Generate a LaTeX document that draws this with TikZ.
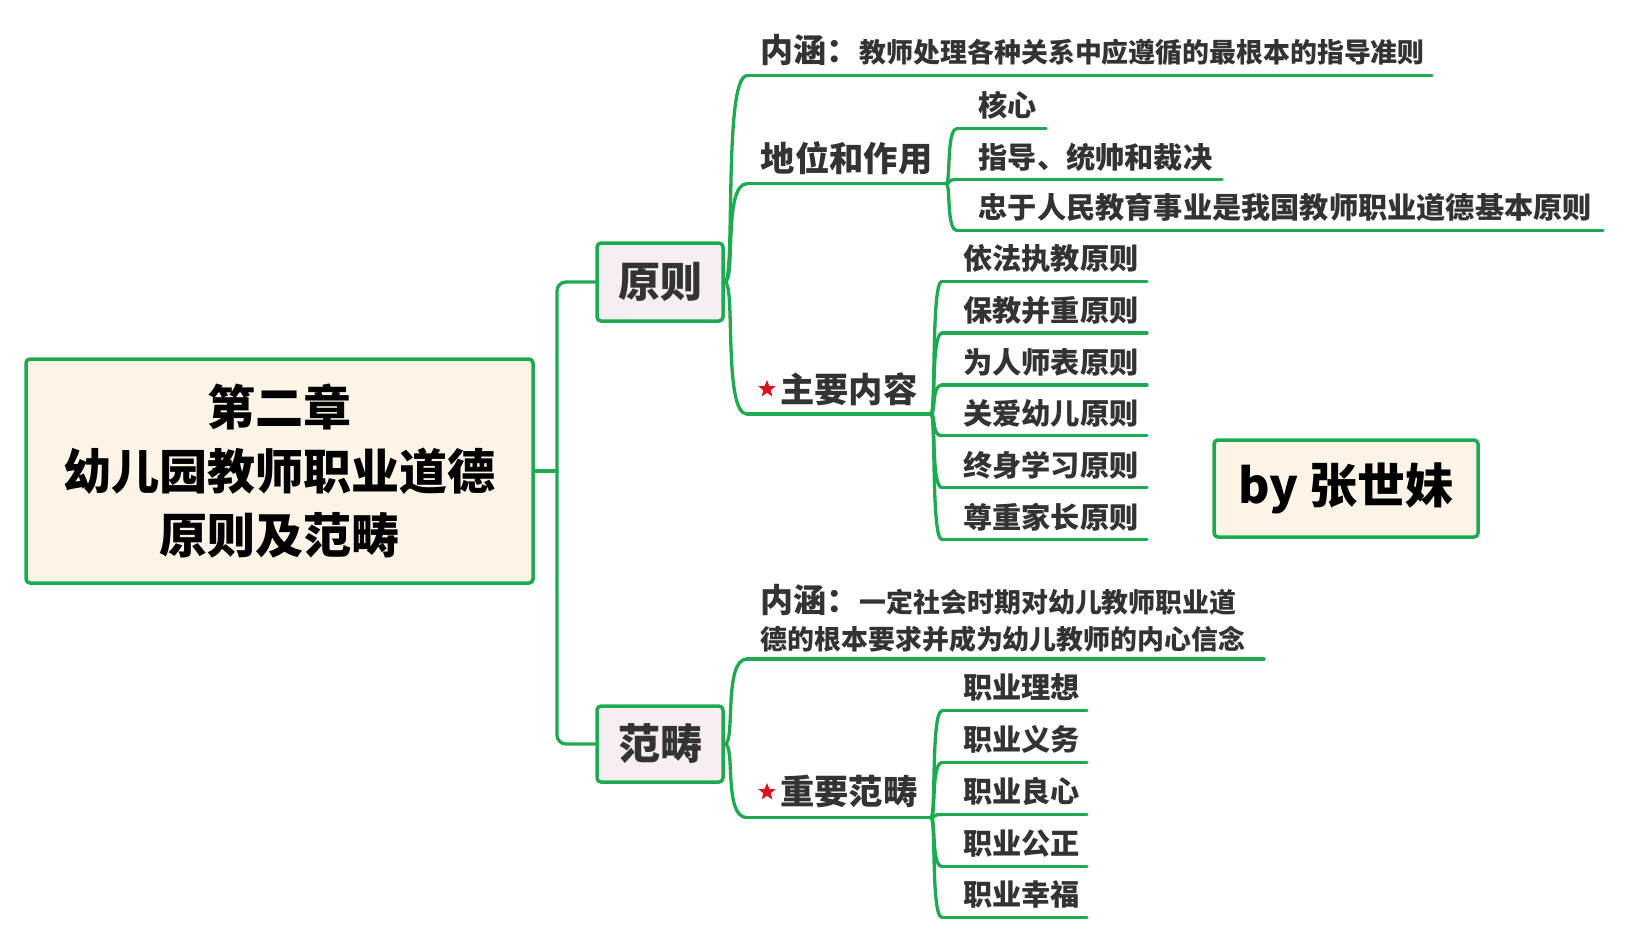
\documentclass[tikz,border=0pt]{standalone}
\usepackage{fontspec}
\setmainfont{Noto Sans CJK SC}
\usetikzlibrary{shapes.geometric}
\definecolor{lgreen}{RGB}{30,170,80}
\definecolor{cream}{RGB}{253,244,232}
\definecolor{pinkbg}{RGB}{246,238,243}
\definecolor{txt}{RGB}{51,51,51}
\definecolor{starred}{RGB}{215,20,30}
\tikzset{
  conn/.style={draw=lgreen, line width=3.3pt, line cap=round},
  mainbox/.style={draw=lgreen, line width=3.5pt, fill=cream, rounded corners=4pt, align=center, text=black, font=\bfseries\fontsize{48}{64}\selectfont},
  subbox/.style={draw=lgreen, line width=3.5pt, fill=pinkbg, rounded corners=4pt, text=txt, font=\bfseries\fontsize{42}{50}\selectfont, minimum width=126pt, inner sep=0pt},
  lvtwo/.style={anchor=west, inner sep=0pt, text=txt, font=\bfseries\fontsize{34.3}{40}\selectfont},
  lvthree/.style={anchor=west, inner sep=0pt, text=txt, font=\bfseries\fontsize{29.2}{34}\selectfont},
  mixed/.style={anchor=base west, inner sep=0pt, text=txt, font=\bfseries},
  redstar/.style={star, star points=5, star point ratio=2.3, fill=starred, draw=none, minimum size=18pt, inner sep=0pt}
}
\newcommand{\bigsz}{\fontsize{33}{40}\selectfont}
\newcommand{\smlsz}{\fontsize{26.9}{32}\selectfont}
\begin{document}
\begin{tikzpicture}[x=1pt,y=-1pt]
\useasboundingbox (0,0) rectangle (1627,940);
% boxes
\node[mainbox, minimum width=507pt, minimum height=224pt, inner sep=0pt] (main) at (279.5,471) {第二章\\幼儿园教师职业道德\\原则及范畴};
\node[subbox, minimum height=78pt] (yz) at (660,282) {原则};
\node[subbox, minimum height=76pt] (fc) at (660,744) {范畴};
\node[draw=lgreen, line width=3.5pt, fill=cream, rounded corners=4pt, minimum width=264pt, minimum height=97pt, inner sep=0pt, text=black, font=\bfseries\fontsize{48}{56}\selectfont] (by) at (1346,488.5) {by 张世妹};
% trunk
\coordinate (j) at (557,471);
\draw[conn] (main.east) -- (j);
\draw[conn, rounded corners=9pt] (j) |- (yz.west);
\draw[conn, rounded corners=9pt] (j) |- (fc.west);
% ---- 原则 branch
\coordinate (nh1a) at (747,75.7);  \coordinate (nh1b) at (1432,75.7);
\coordinate (dwa) at (747,183.7);  \coordinate (dwb) at (946,183.7);
\coordinate (zya) at (747,414);    \coordinate (zyb) at (931,414);
\draw[conn] (nh1a) -- (nh1b);
\draw[conn] (dwa) -- (dwb);
\draw[conn] (zya) -- (zyb);
\foreach \t in {nh1a,dwa,zya}{\draw[conn] (yz.east) .. controls +(11,0) and +(-24,0) .. (\t);}
\node[mixed] (nh1) at (760.6,62) {{\bigsz 内涵：}{\smlsz 教师处理各种关系中应遵循的最根本的指导准则}};
\node[lvtwo] (dw) at (760.6,158) {地位和作用};
\node[lvtwo] (zy) at (780,389) {主要内容};
\node[redstar] (s1) at (767,389) {};
% 地位和作用 children
\coordinate (hxa) at (957,128.7); \coordinate (hxb) at (1046,128.7);
\coordinate (zda) at (957,179.5); \coordinate (zdb) at (1222,179.5);
\coordinate (zha) at (957,230.3); \coordinate (zhb) at (1603,230.3);
\foreach \a/\b in {hxa/hxb,zda/zdb,zha/zhb}{
  \draw[conn] (\a) -- (\b);
  \draw[conn] (dwb) .. controls +(5,0) and +(-11,0) .. (\a);}
\node[lvthree] (hx) at (978.5,105) {核心};
\node[lvthree] (zd) at (978.5,157) {指导、统帅和裁决};
\node[lvthree] (zh) at (978.5,207.5) {忠于人民教育事业是我国教师职业道德基本原则};
% 主要内容 children
\foreach \y/\n/\txt in {281.2/p1/依法执教原则, 333.1/p2/保教并重原则, 385/p3/为人师表原则, 435.8/p4/关爱幼儿原则, 487.7/p5/终身学习原则, 539.6/p6/尊重家长原则}{
  \coordinate (\n a) at (942,\y); \coordinate (\n b) at (1147,\y);
  \draw[conn] (\n a) -- (\n b);
  \draw[conn] (zyb) .. controls +(5,0) and +(-11,0) .. (\n a);
  \node[lvthree] (\n) at (963,\y-22.5) {\txt};}
% ---- 范畴 branch
\coordinate (nh2a) at (747,659);  \coordinate (nh2b) at (1264,659);
\coordinate (zfa) at (747,817.6); \coordinate (zfb) at (931,817.6);
\draw[conn] (nh2a) -- (nh2b);
\draw[conn] (zfa) -- (zfb);
\foreach \t in {nh2a,zfa}{\draw[conn] (fc.east) .. controls +(11,0) and +(-24,0) .. (\t);}
\node[mixed] (nh2) at (760.6,612) {{\bigsz 内涵：}{\smlsz 一定社会时期对幼儿教师职业道}};
\node[mixed] (nh3) at (760.6,649) {\smlsz 德的根本要求并成为幼儿教师的内心信念};
\node[lvtwo] (zf) at (780,791.7) {重要范畴};
\node[redstar] (s2) at (767,792) {};
\foreach \y/\n/\txt in {710.8/q1/职业理想, 762.6/q2/职业义务, 814.5/q3/职业良心, 866.4/q4/职业公正, 917.3/q5/职业幸福}{
  \coordinate (\n a) at (942,\y); \coordinate (\n b) at (1087,\y);
  \draw[conn] (\n a) -- (\n b);
  \draw[conn] (zfb) .. controls +(5,0) and +(-11,0) .. (\n a);
  \node[lvthree] (\n) at (963,\y-23) {\txt};}
\end{tikzpicture}
\end{document}
